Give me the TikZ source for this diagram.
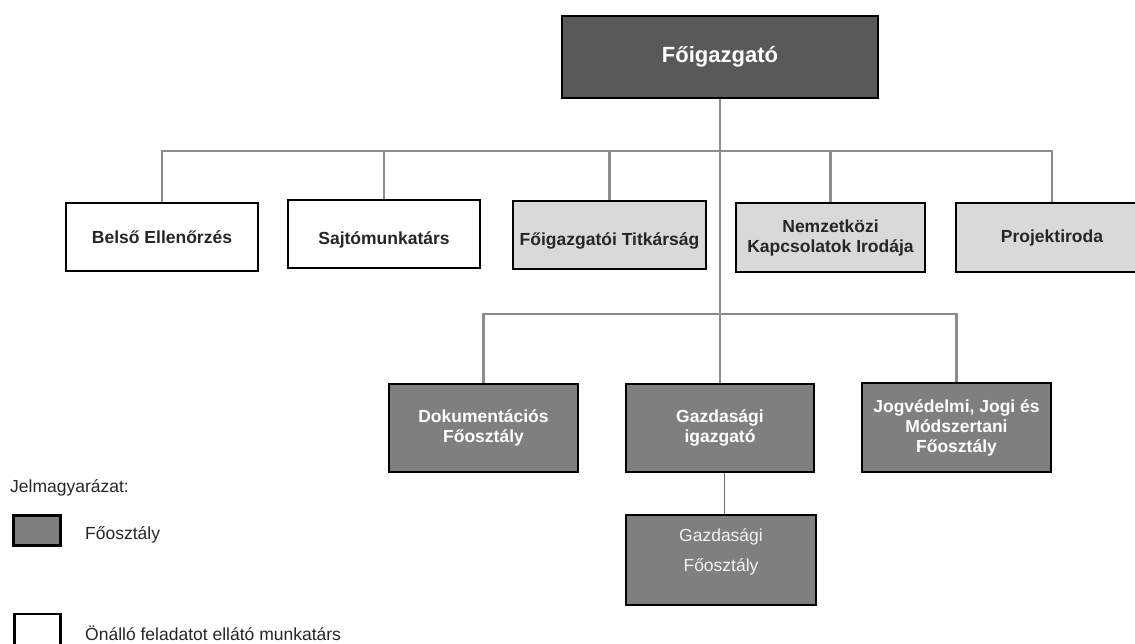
\documentclass[tikz,border=0pt]{standalone}
\usepackage{fontspec}
\setmainfont{Liberation Sans}
\usepackage{tikz}

\begin{document}
\begin{tikzpicture}
		[x=1pt,y=-1pt,
		%Styles
		unit/.style={draw=black,line width=2.8pt,inner sep=2pt,align=center,text=textgray,font=\fontsize{17.5}{20}\selectfont\bfseries},
		head unit/.style={unit,fill=headgray,text=white,font=\fontsize{22}{26}\selectfont\bfseries},
		dept unit/.style={unit,fill=deptgray,text=white},
		office unit/.style={unit,fill=officegray},
		staff unit/.style={unit,fill=white},
		low text/.style={text height=20pt,text depth=0pt},
		link/.style={draw=linkgray,line width=2.6pt},
		sublink/.style={draw=sublinkgray,line width=1.8pt},
		legend text/.style={anchor=west,inner sep=0pt,text=textgray,font=\fontsize{17.5}{20}\selectfont}
		]
		
		%Colors
		\definecolor{headgray}{HTML}{595959}
		\definecolor{deptgray}{HTML}{7F7F7F}
		\definecolor{officegray}{HTML}{D9D9D9}
		\definecolor{linkgray}{HTML}{8C8C8C}
		\definecolor{sublinkgray}{HTML}{6E6E6E}
		\definecolor{textgray}{HTML}{262626}
		
		\useasboundingbox (0,0) rectangle (1135,643);
		\clip (0,0) rectangle (1135,643);
		
		%The units
		\node[head unit,minimum width=316pt,minimum height=82pt] (fo) at (720,57) {Főigazgató};
		
		\node[staff unit,minimum width=192pt,minimum height=68pt] (belso) at (162,237) {Belső Ellenőrzés};
		\node[staff unit,low text,minimum width=192pt,minimum height=68pt] (sajto) at (384,234) {Sajtómunkatárs};
		\node[office unit,low text,minimum width=193pt,minimum height=68pt] (titk) at (609.5,235) {Főigazgatói Titkárság};
		\node[office unit,minimum width=189pt,minimum height=69pt] (nemz) at (830.5,237.5) {Nemzetközi\\Kapcsolatok Irodája};
		\node[office unit,minimum width=192pt,minimum height=69pt] (projekt) at (1052,237.5) {Projektiroda};
		
		\node[dept unit,minimum width=189pt,minimum height=88pt] (dok) at (483.5,428) {Dokumentációs\\Főosztály};
		\node[dept unit,minimum width=188pt,minimum height=88pt] (gazdig) at (720,428) {Gazdasági\\igazgató};
		\node[dept unit,minimum width=189pt,minimum height=89pt] (jog) at (956.5,427.5) {Jogvédelmi, Jogi és\\Módszertani\\Főosztály};
		\node[dept unit,text=white!95!black,font=\fontsize{17.5}{30}\selectfont,text depth=20pt,minimum width=190pt,minimum height=90pt] (gazdfo) at (721,560) {Gazdasági\\Főosztály};
		
		%The lines
		\coordinate (upper bus) at (720,151);
		\coordinate (lower bus) at (720,314);
		
		\draw[link] (fo.south) -- (lower bus);
		\draw[link] (belso.north) |- (upper bus) -| (projekt.north);
		\draw[link] (sajto.north) -- (sajto.north |- upper bus);
		\draw[link] (titk.north) -- (titk.north |- upper bus);
		\draw[link] (nemz.north) -- (nemz.north |- upper bus);
		
		\draw[link] (dok.north) |- (lower bus) -| (jog.north);
		\draw[link] (gazdig.north) -- (lower bus);
		\draw[sublink] ([xshift=4.5pt]gazdig.south) -- ([xshift=4.5pt]gazdig.south |- gazdfo.north);
		
		%Legend
		\node[legend text] (legend) at (10,488) {Jelmagyarázat:};
		\node[dept unit,inner sep=0pt,minimum width=47pt,minimum height=30pt] (keydept) at (37,530.5) {};
		\node[legend text] (keydepttext) at (85,535) {Főosztály};
		\node[staff unit,inner sep=0pt,minimum width=46pt,minimum height=34pt] (keystaff) at (37.5,631) {};
		\node[legend text] (keystafftext) at (85,633) {Önálló feladatot ellátó munkatárs};
	\end{tikzpicture}
\end{document}
